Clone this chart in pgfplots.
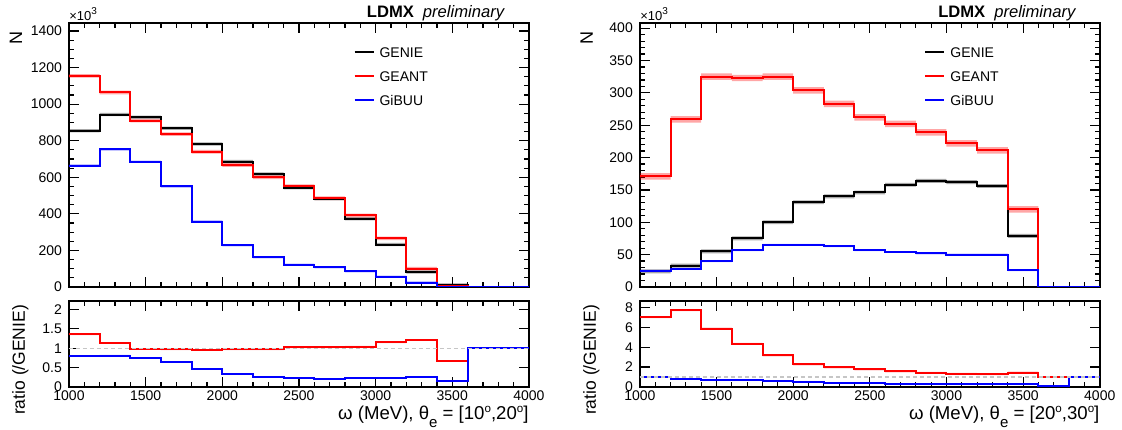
\documentclass[border=0pt]{standalone}
\usepackage{fontspec}
\setmainfont{Liberation Sans}
\usepackage{pgfplots}
\usepackage{pgfplotstable}
\pgfplotsset{compat=1.18}
\usepgfplotslibrary{fillbetween}

\definecolor{rred}{RGB}{255,0,0}
\definecolor{rblue}{RGB}{0,0,255}

% theta_e = [10,20] : N in units of 10^3
\pgfplotstableread{
x genie geant gibuu
1000 855 1155 664
1200 943 1064 752
1400 928 910 685
1600 868 836 550
1800 782 740 358
2000 686 667 228
2200 618 600 162
2400 543 551 121
2600 483 485 108
2800 373 391 86
3000 232 266 56
3200 82 100 24
3400 10 7 1.5
3600 0 0 0
3800 0 0 0
4000 0 0 0
}\mainA
\pgfplotstableread{
x geant gibuu
1000 1.36 0.79
1200 1.14 0.81
1400 0.98 0.74
1600 0.97 0.64
1800 0.95 0.46
2000 0.97 0.33
2200 0.97 0.26
2400 1.02 0.22
2600 1.02 0.21
2800 1.04 0.22
3000 1.15 0.23
3200 1.21 0.26
3400 0.67 0.15
3600 1.00 1.00
3800 1.00 1.00
4000 1.00 1.00
}\ratioA
% theta_e = [20,30]
\pgfplotstableread{
x genie geant gibuu
1000 24 171 25
1200 33 259 28
1400 55 325 40
1600 75 323 57
1800 100 325 65
2000 131 304 65
2200 140 283 63
2400 146 262 57
2600 158 252 54
2800 164 239 52
3000 162 222 50
3200 156 211 50
3400 79 120 26
3600 0 0 0
3800 0 0 0
4000 0 0 0
}\mainB
\pgfplotstableread{
x geant gibuu
1000 7.02 1.00
1200 7.74 0.82
1400 5.87 0.73
1600 4.33 0.74
1800 3.18 0.64
2000 2.26 0.48
2200 1.97 0.42
2400 1.77 0.36
2600 1.57 0.31
2800 1.41 0.29
3000 1.31 0.28
3200 1.28 0.29
3400 1.45 0.30
3600 1.00 0.08
3800 1.00 1.00
4000 1.00 1.00
}\ratioB

\newcommand{\band}[4]{%
  \addplot[name path=U#2, draw=none, const plot, forget plot] table[x=x, y expr={\thisrow{#2}+#3*(\thisrow{#2}>0)}] {#1};
  \addplot[name path=L#2, draw=none, const plot, forget plot] table[x=x, y expr={\thisrow{#2}-#3*(\thisrow{#2}>0)}] {#1};
  \addplot[fill=#4, fill opacity=0.35, draw=none, forget plot] fill between[of=U#2 and L#2];
}

\pgfplotsset{
  rootax/.style={
    scale only axis, width=230pt,
    xmin=1000, xmax=4000,
    xtick={1000,1500,2000,2500,3000,3500,4000},
    minor x tick num=4,
    tick align=inside,
    major tick length=5pt, minor tick length=2.5pt,
    axis line style={line width=1pt},
    tick style={black, line width=0.6pt},
    ticklabel style={font=\fontsize{7}{8}\selectfont},
    /pgf/number format/assume math mode=true,
    /pgf/number format/1000 sep={},
    clip mode=individual,
  },
  mainax/.style={
    rootax, height=132pt, ymin=0,
    xticklabels={},
    ylabel={N},
    ylabel style={at={(axis description cs:-0.102,0.993)}, anchor=base east, font=\fontsize{9}{10}\selectfont},
    legend cell align=left,
    legend image code/.code={\draw[##1, line width=1pt] (0pt,0pt) -- (9.5pt,0pt);},
    legend style={at={(axis description cs:0.618,0.799)}, anchor=west, draw=none, fill=none,
      font=\fontsize{7}{8}\selectfont, row sep=5pt, inner sep=0pt, column sep=2.5pt,
      nodes={inner sep=0pt, text height=6pt, text depth=1pt}},
  },
  ratioax/.style={
    rootax, height=43pt, ymin=0,
    xticklabel style={inner ysep=1.5pt, yshift=-0.3pt},
    ylabel={ratio (/GENIE)},
    ylabel style={at={(axis description cs:-0.0957,1.035)}, anchor=base east, font=\fontsize{8.75}{10}\selectfont},
    xlabel style={at={(axis description cs:1,0)}, anchor=base east, inner sep=0pt, yshift=-16.2pt, font=\fontsize{9.3}{10}\selectfont},
  },
  hist/.style={const plot, line width=1pt},
}

\newcommand{\xlab}[2]{ω (MeV), θ\raisebox{-4pt}{\fontsize{7.5}{8}\selectfont e} = [#1\raisebox{3.4pt}{\fontsize{5.8}{6}\selectfont o},#2\raisebox{3.4pt}{\fontsize{5.8}{6}\selectfont o}]}

\begin{document}
\begin{tikzpicture}
\path (0,0) rectangle (561pt,-215pt);

% ---------- left main ----------
\begin{axis}[mainax, at={(34.5pt,-143.5pt)}, anchor=south west,
  ymax=1444, ytick={0,200,...,1400}, minor y tick num=3]
  \band{\mainA}{genie}{9}{black}
  \band{\mainA}{geant}{10}{rred}
  \band{\mainA}{gibuu}{6}{rblue}
  \addplot[hist, black] table[x=x, y=genie] {\mainA}; \addlegendentry{GENIE}
  \addplot[hist, rred] table[x=x, y=geant] {\mainA}; \addlegendentry{GEANT}
  \addplot[hist, rblue] table[x=x, y=gibuu] {\mainA}; \addlegendentry{GiBUU}
  \node[anchor=base west, font=\fontsize{6.5}{7}\selectfont, inner sep=0pt] at (axis description cs:0,1.0095) {×10\raisebox{3pt}{\fontsize{5}{6}\selectfont 3}};
  \node[anchor=base west, font=\fontsize{8.3}{9}\selectfont, inner sep=0pt] at (axis description cs:0.647,1.0227) {\textbf{LDMX}\hspace{4.5pt}\textit{preliminary}};
\end{axis}

% ---------- left ratio ----------
\begin{axis}[ratioax, at={(34.5pt,-193.5pt)}, anchor=south west,
  ymax=2.22, ytick={0,0.5,1,1.5,2},
  xlabel={\xlab{10}{20}}]
  \band{\ratioA}{geant}{0.02}{rred}
  \band{\ratioA}{gibuu}{0.015}{rblue}
  \addplot[hist, rred] table[x=x, y=geant] {\ratioA};
  \addplot[hist, rblue] table[x=x, y=gibuu] {\ratioA};
  \addplot[gray!45, line width=0.6pt, dash pattern=on 2pt off 1.5pt] coordinates {(1000,1) (4000,1)};
\end{axis}

% ---------- right main ----------
\begin{axis}[mainax, at={(320pt,-143.5pt)}, anchor=south west,
  ymax=408, ytick={0,50,...,400}, minor y tick num=4]
  \band{\mainB}{genie}{3}{black}
  \band{\mainB}{geant}{5}{rred}
  \band{\mainB}{gibuu}{1.5}{rblue}
  \addplot[hist, black] table[x=x, y=genie] {\mainB}; \addlegendentry{GENIE}
  \addplot[hist, rred] table[x=x, y=geant] {\mainB}; \addlegendentry{GEANT}
  \addplot[hist, rblue] table[x=x, y=gibuu] {\mainB}; \addlegendentry{GiBUU}
  \node[anchor=base west, font=\fontsize{6.5}{7}\selectfont, inner sep=0pt] at (axis description cs:0,1.0095) {×10\raisebox{3pt}{\fontsize{5}{6}\selectfont 3}};
  \node[anchor=base west, font=\fontsize{8.3}{9}\selectfont, inner sep=0pt] at (axis description cs:0.648,1.0227) {\textbf{LDMX}\hspace{4.5pt}\textit{preliminary}};
\end{axis}

% ---------- right ratio ----------
\begin{axis}[ratioax, at={(320pt,-193.5pt)}, anchor=south west,
  ymax=8.66, ytick={0,2,4,6,8},
  xlabel={\xlab{20}{30}}]
  \band{\ratioB}{geant}{0.1}{rred}
  \band{\ratioB}{gibuu}{0.03}{rblue}
  \addplot[hist, rred] table[x=x, y=geant] {\ratioB};
  \addplot[hist, rblue] table[x=x, y=gibuu] {\ratioB};
  \addplot[gray!45, line width=0.6pt, dash pattern=on 2pt off 1.5pt] coordinates {(1000,1) (4000,1)};
\end{axis}
\end{tikzpicture}
\end{document}
